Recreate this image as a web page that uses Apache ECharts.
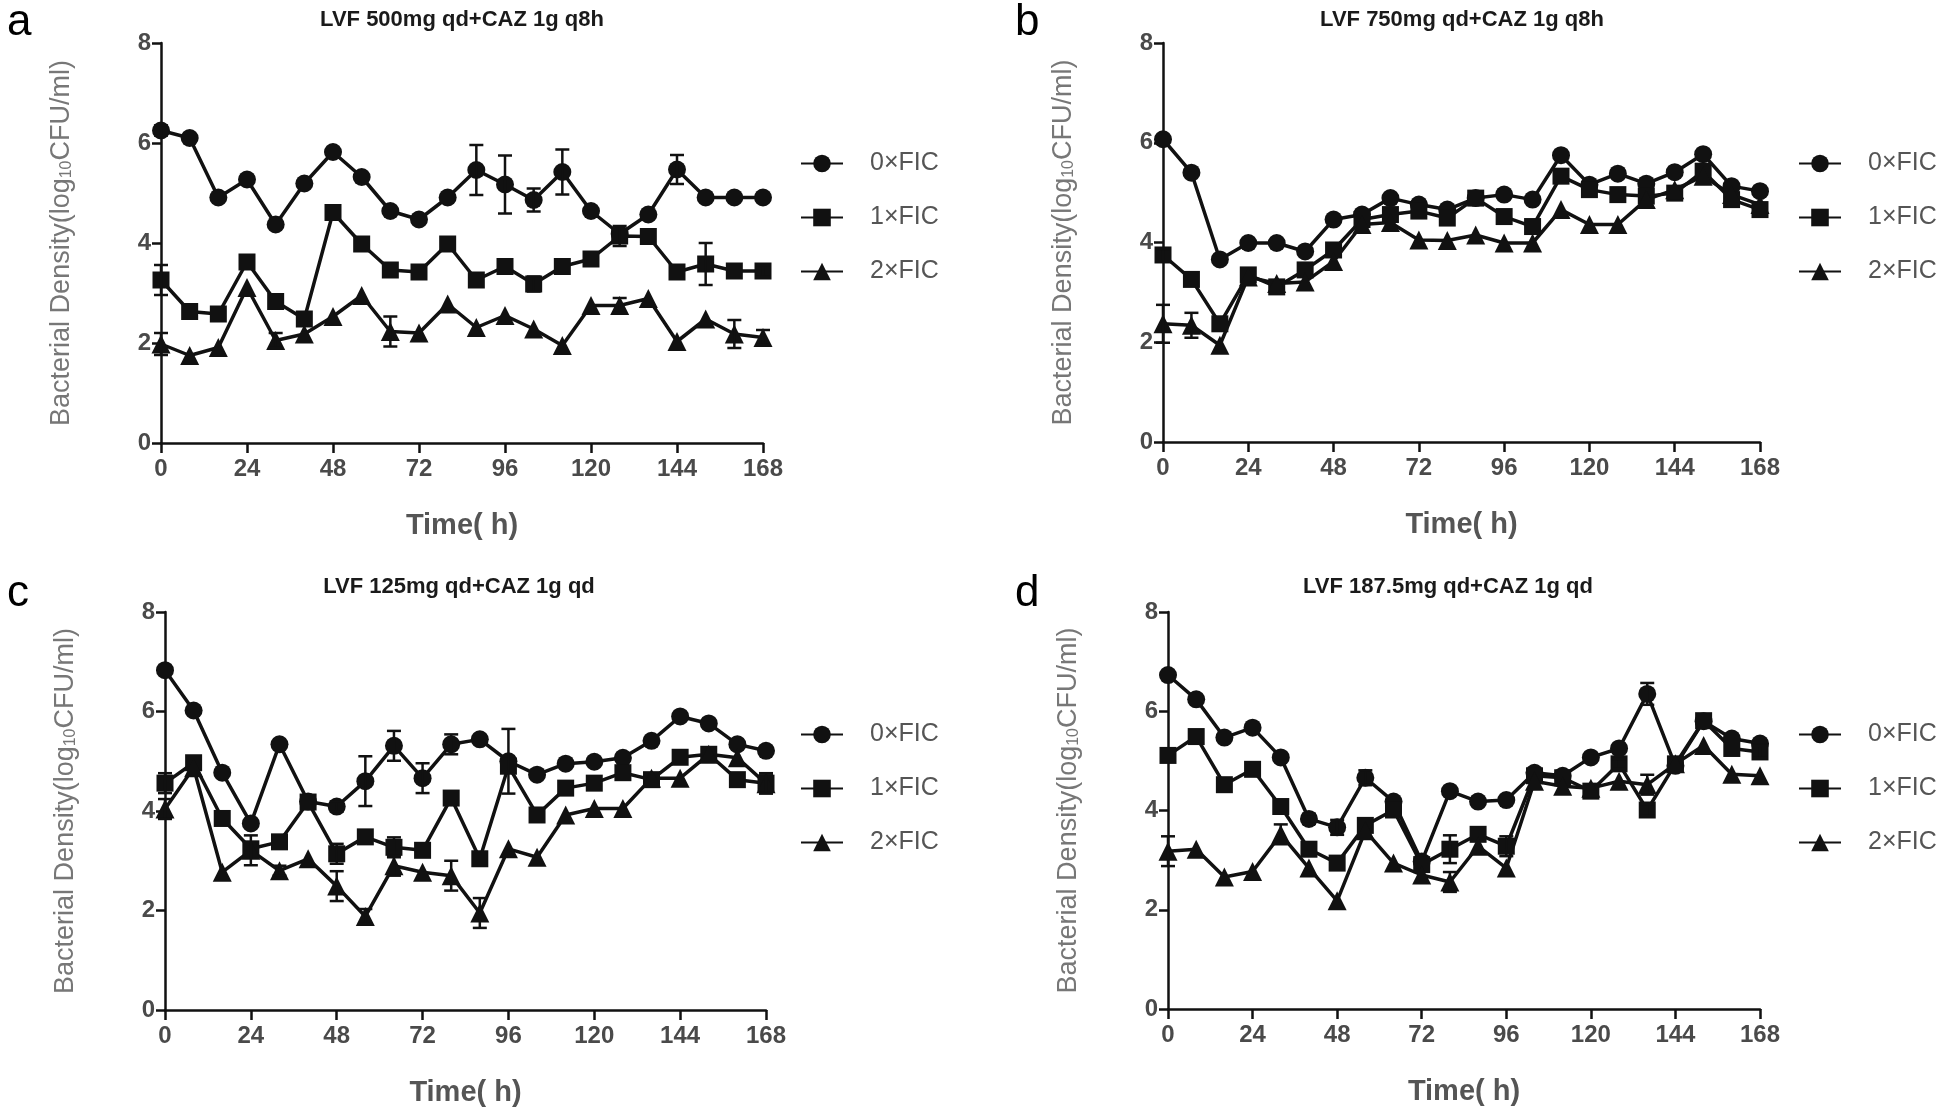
<!DOCTYPE html>
<html><head><meta charset="utf-8">
<script src="https://cdn.jsdelivr.net/npm/echarts@6/dist/echarts.min.js"></script>
<style>html,body{margin:0;padding:0;background:#fff}#c{width:1946px;height:1108px}</style>
</head><body><div id="c"></div>
<script>
const hours = [0,8,16,24,32,40,48,56,64,72,80,88,96,104,112,120,128,136,144,152,160,168];
const seriesNames = ['0×FIC','1×FIC','2×FIC'];
const xTicks = [0,24,48,72,96,120,144,168];
const panelTitles = ['LVF 500mg qd+CAZ 1g q8h','LVF 750mg qd+CAZ 1g q8h','LVF 125mg qd+CAZ 1g qd','LVF 187.5mg qd+CAZ 1g qd'];
const panelLetters = ['a','b','c','d'];

// Panel a
const a0 = [6.25,6.10,4.91,5.27,4.37,5.19,5.82,5.32,4.64,4.47,4.91,5.46,5.17,4.86,5.42,4.64,4.18,4.57,5.47,4.91,4.91,4.91];
const a1 = [3.26,2.63,2.58,3.62,2.83,2.48,4.61,3.98,3.46,3.42,3.98,3.26,3.53,3.18,3.53,3.68,4.14,4.13,3.42,3.58,3.44,3.44];
const a2 = [1.98,1.75,1.91,3.11,2.05,2.18,2.53,2.95,2.23,2.20,2.78,2.31,2.55,2.28,1.95,2.75,2.75,2.89,2.03,2.48,2.18,2.11];
const a0e = [0.1,0,0,0,0,0,0,0,0,0,0,0.5,0.58,0.23,0.45,0,0,0,0.29,0,0,0];
const a1e = [0.3,0,0,0,0,0,0,0,0,0,0,0,0,0.15,0,0,0.2,0,0,0.42,0,0.12];
const a2e = [0.22,0,0,0,0.15,0,0,0,0.3,0,0,0,0,0,0,0,0.15,0,0,0,0.28,0.15];
// Panel b
const b0 = [6.07,5.40,3.66,3.99,3.99,3.82,4.46,4.56,4.89,4.76,4.66,4.89,4.96,4.86,5.75,5.16,5.38,5.18,5.41,5.77,5.13,5.03];
const b1 = [3.75,3.26,2.37,3.35,3.11,3.45,3.85,4.46,4.56,4.63,4.49,4.89,4.52,4.32,5.33,5.06,4.96,4.93,4.99,5.43,4.86,4.66];
const b2 = [2.37,2.34,1.94,3.31,3.18,3.21,3.62,4.36,4.40,4.05,4.04,4.15,3.99,3.99,4.66,4.36,4.36,4.86,5.06,5.33,4.96,4.76];
const b0e = [0,0,0,0,0,0,0,0,0,0,0,0,0,0,0,0,0,0,0,0,0,0];
const b1e = [0.12,0,0,0,0,0,0,0,0,0,0,0,0,0,0,0,0,0,0,0,0,0];
const b2e = [0.38,0.25,0,0,0,0,0,0,0,0,0,0,0,0,0,0,0,0,0,0,0,0];
// Panel c
const c0 = [6.83,6.02,4.77,3.75,5.34,4.19,4.09,4.60,5.31,4.66,5.34,5.44,5.00,4.73,4.95,4.99,5.07,5.41,5.90,5.76,5.34,5.21];
const c1 = [4.56,4.97,3.85,3.24,3.38,4.18,3.14,3.48,3.27,3.21,4.26,3.04,4.90,3.92,4.46,4.56,4.77,4.63,5.08,5.14,4.63,4.56];
const c2 = [4.04,4.87,2.77,3.21,2.80,3.04,2.49,1.88,2.90,2.77,2.70,1.95,3.24,3.07,3.92,4.05,4.05,4.66,4.66,5.14,5.07,4.55];
const c0e = [0,0,0,0,0,0,0.1,0.5,0.3,0.3,0.2,0,0.65,0,0,0,0,0,0,0,0,0];
const c1e = [0.2,0,0,0,0,0,0.2,0,0.2,0,0,0,0,0,0,0,0,0,0,0,0,0.2];
const c2e = [0.2,0,0,0.3,0.1,0,0.3,0.15,0.2,0,0.3,0.3,0,0,0,0,0,0,0,0,0,0.2];
// Panel d
const d0 = [6.73,6.24,5.47,5.67,5.07,3.83,3.66,4.66,4.18,2.97,4.39,4.18,4.21,4.76,4.70,5.07,5.25,6.35,4.90,5.80,5.45,5.35];
const d1 = [5.11,5.49,4.52,4.83,4.08,3.22,2.94,3.70,4.01,2.91,3.22,3.52,3.28,4.70,4.66,4.39,4.94,4.01,4.94,5.81,5.25,5.18];
const d2 = [3.18,3.22,2.66,2.77,3.52,2.84,2.18,3.59,2.94,2.70,2.56,3.28,2.84,4.59,4.49,4.45,4.59,4.52,4.94,5.31,4.73,4.70];
const d0e = [0,0,0,0,0,0.1,0.15,0.15,0,0,0,0,0,0,0,0,0,0.22,0,0,0,0];
const d1e = [0,0,0,0,0,0,0,0,0,0,0.28,0,0.2,0,0,0,0.1,0.12,0,0,0,0.12];
const d2e = [0.3,0,0,0,0.2,0,0,0,0,0,0.2,0,0,0,0,0,0,0.2,0,0,0,0];

const panels = [
  {vals:[a0,a1,a2], errs:[a0e,a1e,a2e]},
  {vals:[b0,b1,b2], errs:[b0e,b1e,b2e]},
  {vals:[c0,c1,c2], errs:[c0e,c1e,c2e]},
  {vals:[d0,d1,d2], errs:[d0e,d1e,d2e]}
];

// layout (pixels)
const grids = [
  {left:161, top:43, width:602, height:400},
  {left:1163, top:43, width:597, height:399},
  {left:165, top:612, width:601, height:399},
  {left:1168, top:612, width:592, height:397}
];
const legendPos = [
  {left:795, top:146},
  {left:1793, top:146},
  {left:795, top:717},
  {left:1793, top:717}
];
const titlePos = [
  {x:457, y:4}, {x:1457, y:4}, {x:454, y:571}, {x:1443, y:571}
];
const letterPos = [
  {x:2, y:-4}, {x:1010, y:-4}, {x:2, y:567}, {x:1010, y:567}
];

const FONT = '"Liberation Sans", Arial, sans-serif';
const symbols = ['circle','rect','triangle'];
const symSizes = [18,17,19];

const option = {
  animation:false,
  backgroundColor:'#fff',
  title:[], grid:[], xAxis:[], yAxis:[], legend:[], series:[]
};

function errRender(params, api){
  const x = api.value(0), y = api.value(1), e = api.value(2);
  if(!e) return null;
  const t = api.coord([x, y+e]), b = api.coord([x, y-e]);
  const w = 7;
  const st = {stroke:'#111', lineWidth:2.5};
  return {type:'group', children:[
    {type:'line', shape:{x1:t[0],y1:t[1],x2:b[0],y2:b[1]}, style:st},
    {type:'line', shape:{x1:t[0]-w,y1:t[1],x2:t[0]+w,y2:t[1]}, style:st},
    {type:'line', shape:{x1:b[0]-w,y1:b[1],x2:b[0]+w,y2:b[1]}, style:st}
  ]};
}

panels.forEach((p, k) => {
  option.title.push({text:panelTitles[k], left:titlePos[k].x, top:titlePos[k].y, textAlign:'center',
    textStyle:{fontFamily:FONT, fontWeight:'bold', fontSize:22, color:'#1a1a1a'}});
  option.title.push({text:panelLetters[k], left:letterPos[k].x, top:letterPos[k].y,
    textStyle:{fontFamily:FONT, fontWeight:'normal', fontSize:44, color:'#000'}});
  option.grid.push(Object.assign({containLabel:false}, grids[k]));
  option.xAxis.push({type:'value', gridIndex:k, min:0, max:168, interval:24,
    name:'Time( h)', nameLocation:'middle', nameGap:68,
    nameTextStyle:{fontFamily:FONT, fontSize:29, color:'#555', fontWeight:'bold'},
    axisLine:{lineStyle:{color:'#111', width:2.5}},
    axisTick:{show:true, length:10, lineStyle:{color:'#111', width:2.5}},
    axisLabel:{fontFamily:FONT, fontSize:24, color:'#4a4a4a', fontWeight:'bold', margin:14},
    splitLine:{show:false}});
  option.yAxis.push({type:'value', gridIndex:k, min:0, max:8, interval:2,
    name:'Bacterial Density(log{sub|10}CFU/ml)', nameLocation:'middle', nameGap:86, nameRotate:90,
    nameTextStyle:{fontFamily:FONT, fontSize:27, color:'#777',
      rich:{sub:{fontFamily:FONT, fontSize:16, color:'#777', padding:[11,0,0,0]}}},
    axisLine:{show:true, lineStyle:{color:'#111', width:2.5}},
    axisTick:{show:true, length:9, lineStyle:{color:'#111', width:2.5}},
    axisLabel:{fontFamily:FONT, fontSize:24, color:'#4a4a4a', fontWeight:'bold', margin:10},
    splitLine:{show:false}});
  option.legend.push({orient:'vertical', left:legendPos[k].left, top:legendPos[k].top,
    itemWidth:42, itemHeight:22, itemGap:29,
    data:seriesNames,
    textStyle:{fontFamily:FONT, fontSize:25, color:'#555', padding:[0,0,0,22]},
    selectedMode:false});
  p.vals.forEach((v, i) => {
    option.series.push({type:'line', name:seriesNames[i], xAxisIndex:k, yAxisIndex:k,
      data:hours.map((h,j)=>[h, v[j]]),
      symbol:symbols[i], symbolSize:symSizes[i], showSymbol:true,
      lineStyle:{color:'#111', width:3.5}, itemStyle:{color:'#111', borderWidth:0},
      z:3});
    option.series.push({type:'custom', name:seriesNames[i]+' err', xAxisIndex:k, yAxisIndex:k,
      renderItem:errRender, encode:{x:0, y:1},
      data:hours.map((h,j)=>[h, v[j], p.errs[i][j]]), z:4, silent:true});
  });
});

const chart = echarts.init(document.getElementById('c'), null, {renderer:'canvas'});
chart.setOption(option);
</script>
</body></html>
